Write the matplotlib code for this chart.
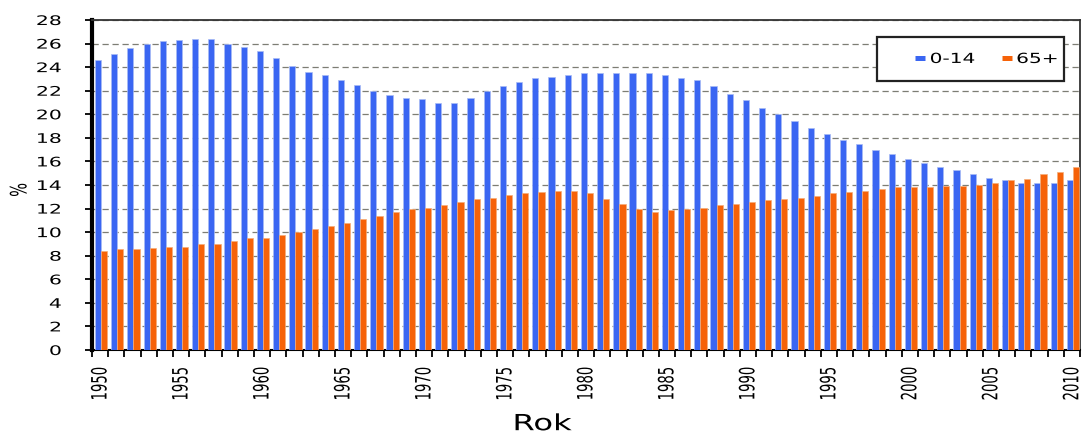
import numpy as np
import matplotlib
matplotlib.use('Agg')
from matplotlib import pyplot as plt
from matplotlib.ticker import MultipleLocator, FixedLocator
from matplotlib.patheffects import AbstractPathEffect
from matplotlib.transforms import Affine2D
from matplotlib.patches import Rectangle
from matplotlib.lines import Line2D

plt.rcParams['font.family'] = ['DejaVu Sans']

years = list(range(1950, 2011))
# udzial grup wieku w ludnosci (%)
mlodzi = [24.6, 25.1, 25.6, 25.95, 26.2, 26.3, 26.4, 26.4, 26.0, 25.7,
          25.4, 24.8, 24.1, 23.6, 23.3, 22.9, 22.5, 22.0, 21.6, 21.4,
          21.3, 21.0, 21.0, 21.4, 21.97, 22.4, 22.7, 23.1, 23.2, 23.3,
          23.5, 23.5, 23.5, 23.5, 23.5, 23.3, 23.1, 22.9, 22.4, 21.7,
          21.2, 20.5, 20.0, 19.4, 18.8, 18.3, 17.8, 17.5, 17.0, 16.6,
          16.2, 15.9, 15.5, 15.3, 14.9, 14.6, 14.4, 14.2, 14.2, 14.2,
          14.4]
starsi = [8.4, 8.55, 8.55, 8.66, 8.77, 8.77, 9.03, 9.03, 9.26, 9.5,
          9.5, 9.77, 9.97, 10.26, 10.48, 10.74, 11.1, 11.34, 11.7, 11.97,
          12.05, 12.3, 12.56, 12.8, 12.9, 13.16, 13.3, 13.4, 13.5, 13.5,
          13.3, 12.8, 12.4, 12.0, 11.7, 11.85, 12.0, 12.05, 12.3, 12.4,
          12.56, 12.7, 12.8, 12.9, 13.05, 13.3, 13.4, 13.5, 13.65, 13.8,
          13.8, 13.8, 13.9, 13.9, 14.0, 14.2, 14.4, 14.5, 14.9, 15.1,
          15.5]
serie = ['0-14', '65+']
kolory = ['#3a66f2', '#f66208']


# szerszy krój pisma: rozciąganie tekstu w poziomie
class Rozciag(AbstractPathEffect):
    def __init__(self, sx=1.55, kotwica='center'):
        super().__init__()
        self.sx = sx
        self.kotwica = kotwica

    def draw_path(self, renderer, gc, tpath, affine, rgbFace=None):
        bb = tpath.get_extents(affine)
        if self.kotwica == 'right':
            cx = bb.x1
        elif self.kotwica == 'left':
            cx = bb.x0
        else:
            cx = (bb.x0 + bb.x1) / 2
        t = affine + Affine2D().translate(-cx, 0).scale(self.sx, 1).translate(cx, 0)
        renderer.draw_path(gc, tpath, t, rgbFace)


x = np.arange(len(years))
w = 0.38

fig = plt.figure(figsize=(10.85, 4.33), dpi=100)
ax = fig.add_axes([0.0848, 0.1917, 0.9106, 0.7621])

ax.bar(x - 0.13, mlodzi, width=w, color=kolory[0], edgecolor='#a8bbf5',
       linewidth=0.5, zorder=3)
ax.bar(x + 0.25, starsi, width=w, color=kolory[1], edgecolor='#f5ad78',
       linewidth=0.5, zorder=3)

ax.set_xlim(-0.5, len(years) - 0.5)
ax.set_ylim(0, 28)
ax.yaxis.set_major_locator(MultipleLocator(2))
ax.grid(axis='y', linestyle=(0, (5, 3)), color='#7d7d74', linewidth=0.9, zorder=0)

# etykiety co 5 lat, kreski na granicach kategorii
lab_pos = [i for i, r in enumerate(years) if r % 5 == 0]
ax.set_xticks(lab_pos)
ax.set_xticklabels([str(years[i]) for i in lab_pos], rotation=90, fontsize=9.5)
ax.tick_params(axis='x', which='major', length=0, pad=12)
ax.xaxis.set_minor_locator(FixedLocator(np.arange(-0.5, len(years), 1.0)))
ax.tick_params(axis='x', which='minor', length=5, width=1.3, direction='out')
ax.tick_params(axis='y', labelsize=9.5, length=5, width=1.3, direction='out', pad=17)
for t in ax.get_xticklabels():
    t.set_path_effects([Rozciag(1.6, 'center')])
for t in ax.get_yticklabels():
    t.set_path_effects([Rozciag(1.55, 'right')])

ax.spines['left'].set_linewidth(3)
ax.spines['bottom'].set_linewidth(1.5)
for s in ['top', 'right']:
    ax.spines[s].set_linewidth(1.3)
    ax.spines[s].set_color('#333333')

ax.set_ylabel('%', fontsize=10.5, va='center', ha='center')
ax.yaxis.set_label_coords(-0.0739, 0.485)
ax.yaxis.label.set_path_effects([Rozciag(1.55, 'center')])

ax.set_xlabel('Rok', fontsize=16, va='baseline')
ax.xaxis.set_label_coords(0.456, -0.243)
ax.xaxis.label.set_path_effects([Rozciag(1.45, 'center')])

# ramka legendy
ramka = Rectangle((0.7945, 0.8152), 0.1893, 0.1333, transform=ax.transAxes,
                  facecolor='white', edgecolor='#222222', linewidth=1.6, zorder=5)
ax.add_patch(ramka)
uchwyty = [Line2D([], [], color=k, linewidth=3.6, solid_capstyle='butt') for k in kolory]
leg = ax.legend(uchwyty, serie, loc='center left', bbox_to_anchor=(0.826, 0.882),
                ncol=2, fontsize=10, frameon=False, borderpad=0, handlelength=0.72,
                handletextpad=0.36, columnspacing=2.9)
leg.set_zorder(6)
for t in leg.get_texts():
    t.set_path_effects([Rozciag(1.45, 'left')])

fig.savefig('out.png', dpi=100)
